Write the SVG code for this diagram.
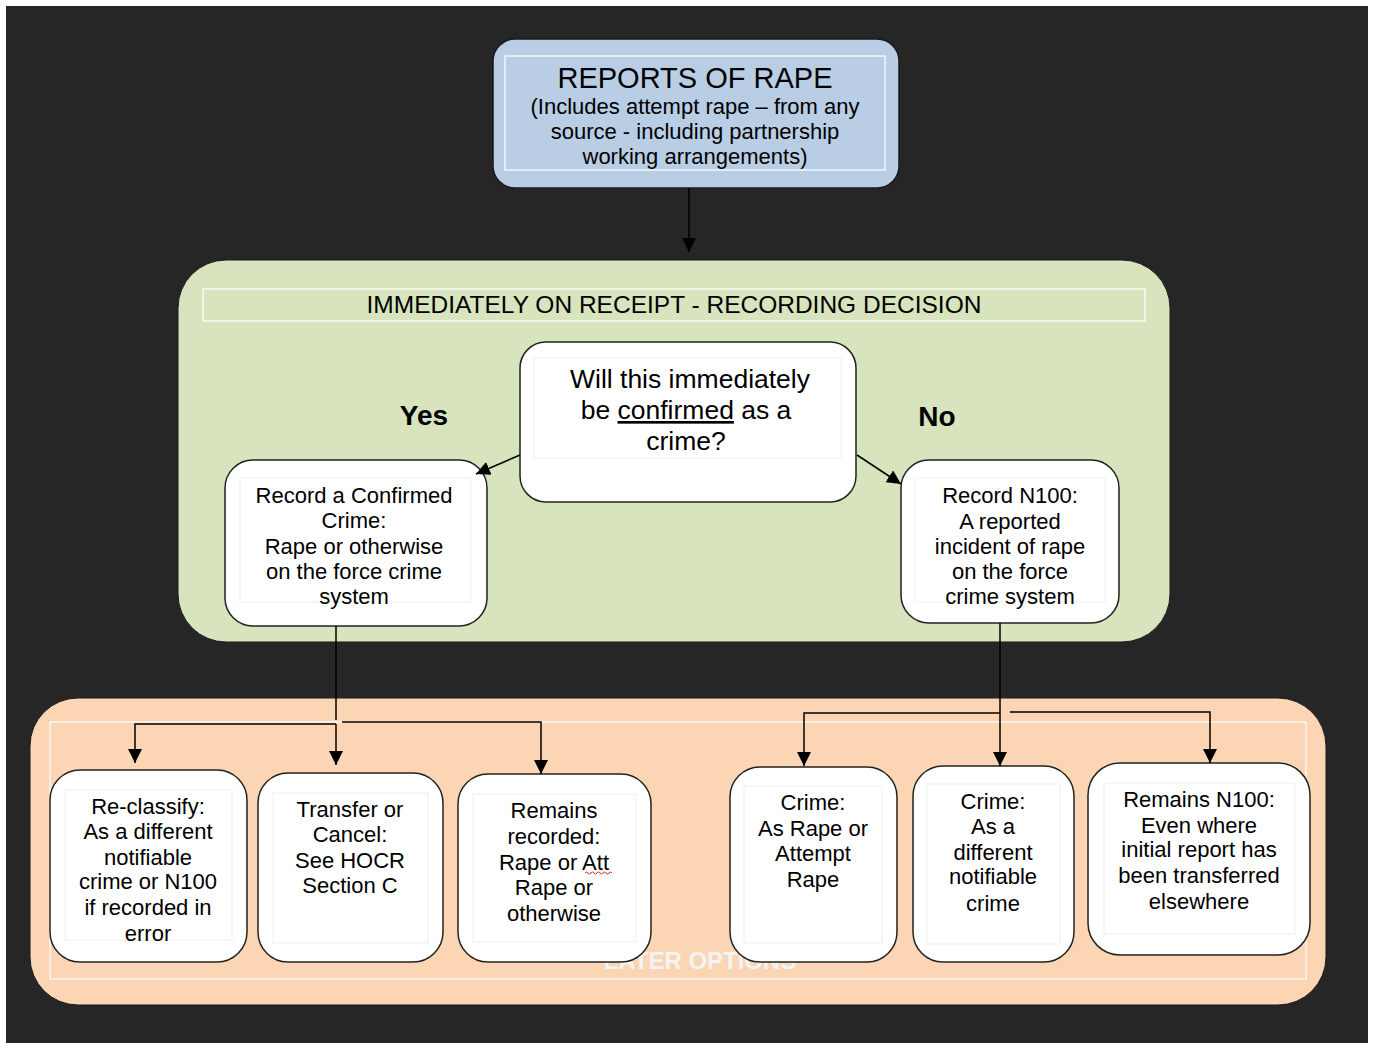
<svg xmlns="http://www.w3.org/2000/svg" width="1373" height="1043" viewBox="0 0 1373 1043">
<style>
text{font-family:"Liberation Sans",Arial,sans-serif;fill:#000;text-anchor:middle}
.t22{font-size:22px}
.box{fill:#fff;stroke:#222;stroke-width:1.5}
.inner{fill:none;stroke:#efefef;stroke-width:1}
.wline{fill:none;stroke:#fff;stroke-width:1.2}
.conn{fill:none;stroke:#000;stroke-width:1.5}
</style>
<defs>
<marker id="ah" viewBox="0 0 14 14" refX="14" refY="7" markerWidth="14" markerHeight="14" markerUnits="userSpaceOnUse" orient="auto">
<path d="M0,0 L14,7 L0,14 Z" fill="#000"/>
</marker>
</defs>
<rect x="0" y="0" width="1373" height="1043" fill="#fff"/>
<rect x="6" y="6" width="1362" height="1037" fill="#262626"/>

<g id="top">
<rect x="493" y="39" width="406" height="149" rx="22" fill="#b9cde5" stroke="#1a1a1a" stroke-width="1.5"/>
<rect x="505" y="56" width="380" height="114" class="wline"/>
<text x="695" y="88" style="font-size:29px">REPORTS OF RAPE</text>
<text x="695" y="114" class="t22">(Includes attempt rape – from any</text>
<text x="695" y="139" class="t22">source - including partnership</text>
<text x="695" y="164" class="t22">working arrangements)</text>
</g>

<g id="recording-stage">
<rect x="178" y="260" width="992" height="382" rx="48" fill="#d7e4bd" stroke="#1a1a1a" stroke-width="1"/>
<rect x="203" y="289" width="942" height="32" class="wline"/>
<text x="674" y="313" style="font-size:24.5px">IMMEDIATELY ON RECEIPT - RECORDING DECISION</text>
<text x="424" y="425" style="font-size:28px;font-weight:bold">Yes</text>
<text x="937" y="426" style="font-size:28px;font-weight:bold">No</text>
</g>

<g id="later-stage">
<rect x="30" y="698" width="1296" height="307" rx="48" fill="#fcd5b4" stroke="#1a1a1a" stroke-width="1"/>
<rect x="50" y="722" width="1256" height="257" class="wline"/>
<text x="700" y="969" style="font-size:24px;font-weight:bold;fill:#f4f4f4">LATER OPTIONS</text>
</g>

<g id="decision">
<rect x="520" y="342" width="336" height="160" rx="26" class="box"/>
<rect x="534" y="358" width="307" height="100" class="inner"/>
<text x="690" y="388" style="font-size:26.5px">Will this immediately</text>
<text x="686" y="419" style="font-size:26.5px">be <tspan text-decoration="underline">confirmed</tspan> as a</text>
<text x="686" y="450" style="font-size:26.5px">crime?</text>
</g>

<g id="confirmed">
<rect x="225" y="460" width="262" height="166" rx="28" class="box"/>
<rect x="240" y="478" width="231" height="124" class="inner"/>
<text x="354" y="503" class="t22">Record a Confirmed</text>
<text x="354" y="528" class="t22">Crime:</text>
<text x="354" y="554" class="t22">Rape or otherwise</text>
<text x="354" y="579" class="t22">on the force crime</text>
<text x="354" y="604" class="t22">system</text>
</g>

<g id="n100">
<rect x="901" y="460" width="218" height="163" rx="28" class="box"/>
<rect x="915" y="478" width="190" height="124" class="inner"/>
<text x="1010" y="503" class="t22">Record N100:</text>
<text x="1010" y="529" class="t22">A reported</text>
<text x="1010" y="554" class="t22">incident of rape</text>
<text x="1010" y="579" class="t22">on the force</text>
<text x="1010" y="604" class="t22">crime system</text>
</g>

<g id="reclassify">
<rect x="50" y="770" width="197" height="192" rx="30" class="box"/>
<rect x="65" y="790" width="167" height="150" class="inner"/>
<text x="148" y="814" class="t22">Re-classify:</text>
<text x="148" y="839" class="t22">As a different</text>
<text x="148" y="865" class="t22">notifiable</text>
<text x="148" y="889" class="t22">crime or N100</text>
<text x="148" y="915" class="t22">if recorded in</text>
<text x="148" y="941" class="t22">error</text>
</g>

<g id="transfer">
<rect x="258" y="773" width="185" height="189" rx="30" class="box"/>
<rect x="273" y="793" width="155" height="150" class="inner"/>
<text x="350" y="817" class="t22">Transfer or</text>
<text x="350" y="842" class="t22">Cancel:</text>
<text x="350" y="868" class="t22">See HOCR</text>
<text x="350" y="893" class="t22">Section C</text>
</g>

<g id="remains-recorded">
<rect x="458" y="774" width="193" height="188" rx="30" class="box"/>
<rect x="473" y="794" width="163" height="148" class="inner"/>
<text x="554" y="818" class="t22">Remains</text>
<text x="554" y="844" class="t22">recorded:</text>
<text x="554" y="870" class="t22">Rape or Att</text>
<path d="M585,873 q1.5,-2 3,0 t3,0 t3,0 t3,0 t3,0 t3,0 t3,0 t3,0 t3,0" fill="none" stroke="#e02020" stroke-width="1"/>
<text x="554" y="895" class="t22">Rape or</text>
<text x="554" y="921" class="t22">otherwise</text>
</g>

<g id="crime-rape">
<rect x="730" y="767" width="167" height="195" rx="30" class="box"/>
<rect x="744" y="786" width="138" height="157" class="inner"/>
<text x="813" y="810" class="t22">Crime:</text>
<text x="813" y="836" class="t22">As Rape or</text>
<text x="813" y="861" class="t22">Attempt</text>
<text x="813" y="887" class="t22">Rape</text>
</g>

<g id="crime-different">
<rect x="913" y="766" width="161" height="196" rx="30" class="box"/>
<rect x="927" y="784" width="133" height="160" class="inner"/>
<text x="993" y="809" class="t22">Crime:</text>
<text x="993" y="834" class="t22">As a</text>
<text x="993" y="860" class="t22">different</text>
<text x="993" y="884" class="t22">notifiable</text>
<text x="993" y="911" class="t22">crime</text>
</g>

<g id="remains-n100">
<rect x="1088" y="763" width="222" height="192" rx="32" class="box"/>
<rect x="1104" y="783" width="191" height="151" class="inner"/>
<text x="1199" y="807" class="t22">Remains N100:</text>
<text x="1199" y="833" class="t22">Even where</text>
<text x="1199" y="857" class="t22">initial report has</text>
<text x="1199" y="883" class="t22">been transferred</text>
<text x="1199" y="909" class="t22">elsewhere</text>
</g>

<g id="connectors">
<path class="conn" d="M689,188 V252" marker-end="url(#ah)"/>
<path class="conn" d="M520,455 L476,474" marker-end="url(#ah)"/>
<path class="conn" d="M857,455 L901,484" marker-end="url(#ah)"/>
<path class="conn" d="M336,626 V720"/>
<path class="conn" d="M336,724 H135 V763" marker-end="url(#ah)"/>
<path class="conn" d="M336,724 V765" marker-end="url(#ah)"/>
<path class="conn" d="M342,722 H541 V774" marker-end="url(#ah)"/>
<path class="conn" d="M1000,623 V766" marker-end="url(#ah)"/>
<path class="conn" d="M1000,713 H804 V766" marker-end="url(#ah)"/>
<path class="conn" d="M1010,712 H1210 V763" marker-end="url(#ah)"/>
</g>
</svg>
